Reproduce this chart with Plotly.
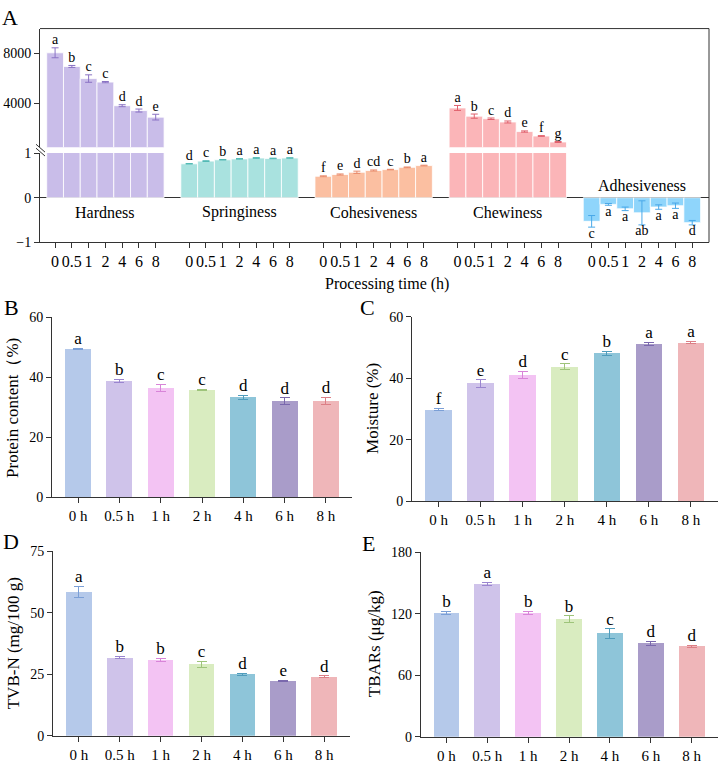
import plotly.graph_objects as go

W, H = 718, 765
FONT = "Liberation Serif"

# ---------------- Panel A data ----------------
times_A = ["0", "0.5", "1", "2", "4", "6", "8"]
attr_names = ["Hardness", "Springiness", "Cohesiveness", "Chewiness", "Adhesiveness"]
hardness = [8050, 6950, 5975, 5690, 3790, 3400, 2870]
hardness_err = [400, 80, 300, 50, 80, 120, 230]
hardness_let = ["a", "b", "c", "c", "d", "d", "e"]
springiness = [0.76, 0.82, 0.85, 0.87, 0.89, 0.88, 0.89]
springiness_err = [0.005, 0.008, 0.006, 0.006, 0.008, 0.006, 0.005]
springiness_let = ["d", "c", "b", "a", "a", "a", "a"]
cohesiveness = [0.48, 0.52, 0.57, 0.61, 0.63, 0.68, 0.72]
cohesiveness_err = [0.01, 0.012, 0.025, 0.012, 0.006, 0.008, 0.008]
cohesiveness_let = ["f", "e", "d", "cd", "c", "b", "a"]
chewiness = [3610, 2950, 2740, 2480, 1710, 1350, 870]
chewiness_err = [200, 170, 60, 80, 50, 30, 40]
chewiness_let = ["a", "b", "c", "d", "e", "f", "g"]
adhesiveness = [-0.53, -0.15, -0.25, -0.34, -0.21, -0.18, -0.56]
adhesiveness_err = [0.13, 0.02, 0.04, 0.27, 0.05, 0.06, 0.05]
adhesiveness_let = ["c", "a", "a", "ab", "a", "a", "d"]

# ---------------- Panels B-E data ----------------
times = ["0 h", "0.5 h", "1 h", "2 h", "4 h", "6 h", "8 h"]
protein = [49.5, 38.8, 36.4, 35.8, 33.3, 32.0, 32.2]
protein_err = [0.3, 0.5, 1.2, 0.2, 0.7, 1.2, 1.1]
protein_let = ["a", "b", "c", "c", "d", "d", "d"]
moisture = [29.8, 38.3, 41.1, 43.7, 48.1, 51.1, 51.6]
moisture_err = [0.3, 1.2, 1.2, 1.0, 0.7, 0.5, 0.3]
moisture_let = ["f", "e", "d", "c", "b", "a", "a"]
tvbn = [58.5, 31.7, 30.8, 29.0, 24.9, 22.4, 24.0]
tvbn_err = [2.3, 0.4, 0.6, 1.3, 0.3, 0.2, 0.3]
tvbn_let = ["a", "b", "b", "c", "d", "e", "d"]
tbars = [120.5, 149.0, 120.8, 114.7, 100.7, 91.2, 88.2]
tbars_err = [1.5, 1.3, 1.5, 3.0, 4.5, 2.0, 1.0]
tbars_let = ["b", "a", "b", "b", "c", "d", "d"]

fill_A = ["#c9bde9", "#a9e2df", "#fbbfa1", "#fbb5b8", "#8fd5fb"]
err_A = ["#8a72c4", "#4fb8b3", "#e88a6a", "#e0606c", "#4aa8e8"]
fill_B = ["#b5c9ea", "#cfc3ea", "#f3c3f3", "#d9ecc0", "#8ec5d9", "#a99cc9", "#efb6b9"]
err_B = ["#7b9fd6", "#9a85cf", "#d884d8", "#9ec47a", "#4f9cbc", "#7a68ad", "#dc7f86"]


def px(x):
    return x / W


def py(y):
    return 1 - y / H


fig = go.Figure()

# ---------------- Panel A traces ----------------
groups = [
    (hardness, hardness_err, hardness_let, "break"),
    (springiness, springiness_err, springiness_let, "low"),
    (cohesiveness, cohesiveness_err, cohesiveness_let, "low"),
    (chewiness, chewiness_err, chewiness_let, "break"),
    (adhesiveness, adhesiveness_err, adhesiveness_let, "low"),
]
tickvals_A, ticktext_A = [], []
for g, (vals, errs, lets, seg) in enumerate(groups):
    xs = [8 * g + i for i in range(len(vals))]
    tickvals_A += xs
    ticktext_A += times_A
    bar_kw = dict(x=xs, y=vals, width=1.0, showlegend=False, hoverinfo="skip",
                  marker=dict(color=fill_A[g], line=dict(color="rgba(255,255,255,0.8)", width=1)))
    err_kw = dict(type="data", array=errs, color=err_A[g], thickness=1, width=3.5)
    if seg == "break":
        fig.add_trace(go.Bar(xaxis="x", yaxis="y", **bar_kw))
        fig.add_trace(go.Bar(xaxis="x", yaxis="y2", error_y=err_kw, **bar_kw))
        fig.add_trace(go.Scatter(x=xs, y=[v + e for v, e in zip(vals, errs)], text=lets,
                                 mode="text", textposition="top center", xaxis="x", yaxis="y2",
                                 textfont=dict(family=FONT, size=14, color="black"),
                                 cliponaxis=False, showlegend=False, hoverinfo="skip"))
    else:
        fig.add_trace(go.Bar(xaxis="x", yaxis="y", error_y=err_kw, **bar_kw))
        neg = vals[0] < 0
        ys = [v - e for v, e in zip(vals, errs)] if neg else [v + e for v, e in zip(vals, errs)]
        fig.add_trace(go.Scatter(x=xs, y=ys, text=lets, mode="text",
                                 textposition="bottom center" if neg else "top center",
                                 xaxis="x", yaxis="y",
                                 textfont=dict(family=FONT, size=14, color="black"),
                                 cliponaxis=False, showlegend=False, hoverinfo="skip"))

# ---------------- Panels B-E traces ----------------
panels = [
    (protein, protein_err, protein_let, "3", [0, 20, 40, 60], [0, 60]),
    (moisture, moisture_err, moisture_let, "4", [0, 20, 40, 60], [0, 60]),
    (tvbn, tvbn_err, tvbn_let, "5", [0, 25, 50, 75], [0, 75]),
    (tbars, tbars_err, tbars_let, "6", [0, 60, 120, 180], [0, 180]),
]
for vals, errs, lets, ax, _, _ in panels:
    for i, (v, e) in enumerate(zip(vals, errs)):
        fig.add_trace(go.Bar(x=[i], y=[v], width=0.63, xaxis="x" + ax, yaxis="y" + ax,
                             marker=dict(color=fill_B[i], line=dict(width=0)),
                             error_y=dict(type="data", array=[e], color=err_B[i], thickness=1, width=5),
                             showlegend=False, hoverinfo="skip"))
    fig.add_trace(go.Scatter(x=list(range(len(vals))), y=[v + e for v, e in zip(vals, errs)],
                             text=lets, mode="text", textposition="top center",
                             xaxis="x" + ax, yaxis="y" + ax,
                             textfont=dict(family=FONT, size=17, color="black"),
                             cliponaxis=False, showlegend=False, hoverinfo="skip"))

AX = "#333333"
common_y = dict(showgrid=False, showline=True, linecolor=AX, linewidth=1, ticks="outside",
                ticklen=5, tickcolor=AX, tickfont=dict(family=FONT, size=14, color="black"),
                zeroline=False, fixedrange=True)
common_x = dict(showgrid=False, showline=True, linecolor=AX, linewidth=1, ticks="outside",
                ticklen=5, tickcolor=AX, zeroline=False, fixedrange=True)

layout = dict(
    width=W, height=H, margin=dict(l=0, r=0, t=0, b=0),
    paper_bgcolor="white", plot_bgcolor="white", barmode="overlay", bargap=0,
    font=dict(family=FONT, color="black"),
    xaxis=dict(domain=[px(40), px(709)], range=[-0.9, 39], anchor="y",
               tickvals=tickvals_A, ticktext=ticktext_A,
               tickfont=dict(family=FONT, size=16, color="black"), **common_x),
    yaxis=dict(domain=[py(240), py(149)], range=[-1, 1], anchor="x",
               tickvals=[-1, 0, 1], **{k: v for k, v in common_y.items() if k != "zeroline"},
               zeroline=True, zerolinecolor=AX, zerolinewidth=1),
    yaxis2=dict(domain=[py(143), py(22)], range=[450, 10000], anchor="x",
                tickvals=[4000, 8000], **common_y),
)

dom = {
    "3": ([px(52), px(352)], [py(500), py(316.7)]),
    "4": ([px(412), px(717.5)], [py(504), py(316)]),
    "5": ([px(53), px(350)], [py(743.3), py(555)]),
    "6": ([px(420.7), px(717.5)], [py(744.3), py(556)]),
}
for vals, errs, lets, ax, yt, yr in panels:
    xd, yd = dom[ax]
    layout["xaxis" + ax] = dict(domain=xd, range=[-0.63, 6.63], anchor="y" + ax,
                                tickvals=list(range(7)), ticktext=times,
                                tickfont=dict(family=FONT, size=15, color="black"), **common_x)
    layout["yaxis" + ax] = dict(domain=yd, range=yr, anchor="x" + ax, tickvals=yt, **common_y)

fig.update_layout(**layout)

# Frame of panel A (top and right sides)
shapes = [
    dict(type="line", xref="paper", yref="paper", x0=px(40), x1=px(709), y0=py(22), y1=py(22),
         line=dict(color=AX, width=1)),
    dict(type="line", xref="paper", yref="paper", x0=px(709), x1=px(709), y0=py(22), y1=py(240),
         line=dict(color=AX, width=1)),
    # axis break marks
    dict(type="line", xref="paper", yref="paper", x0=px(36), x1=px(45), y0=py(140), y1=py(148),
         line=dict(color=AX, width=1)),
    dict(type="line", xref="paper", yref="paper", x0=px(36), x1=px(45), y0=py(144), y1=py(152),
         line=dict(color=AX, width=1)),
]
fig.update_layout(shapes=shapes)

ann = []
# group labels in panel A
for g, name in enumerate(attr_names):
    yv = 0.27 if name == "Adhesiveness" else -0.33
    ann.append(dict(x=8 * g + 3, y=yv, xref="x", yref="y", text=name, showarrow=False,
                    font=dict(family=FONT, size=16, color="black"), xanchor="center", yanchor="middle"))
ann.append(dict(x=px(387), y=py(283), xref="paper", yref="paper", text="Processing time (h)",
                showarrow=False, font=dict(family=FONT, size=16, color="black")))

# y titles
ytitles = [
    ("Protein content\uff08%)", 13, 409),
    ("Moisture (%)", 373, 410),
    ("TVB-N (mg/100 g)", 13, 649),
    ("TBARs (\u03bcg/kg)", 374, 650),
]
for t, x, y in ytitles:
    ann.append(dict(x=px(x), y=py(y), xref="paper", yref="paper", text=t, textangle=-90,
                    showarrow=False, font=dict(family=FONT, size=17, color="black"),
                    xanchor="center", yanchor="middle"))

# panel letters
for t, x, y in [("A", 10, 11), ("B", 11, 306), ("C", 367, 306), ("D", 11, 545), ("E", 368, 547)]:
    ann.append(dict(x=px(x), y=py(y), xref="paper", yref="paper", text=t, showarrow=False,
                    font=dict(family=FONT, size=22, color="black"), xanchor="center", yanchor="middle"))

fig.update_layout(annotations=ann)
fig.write_html("out.html", config={"staticPlot": True},
               post_script="document.body.style.margin='0px';document.body.style.overflow='hidden';")
